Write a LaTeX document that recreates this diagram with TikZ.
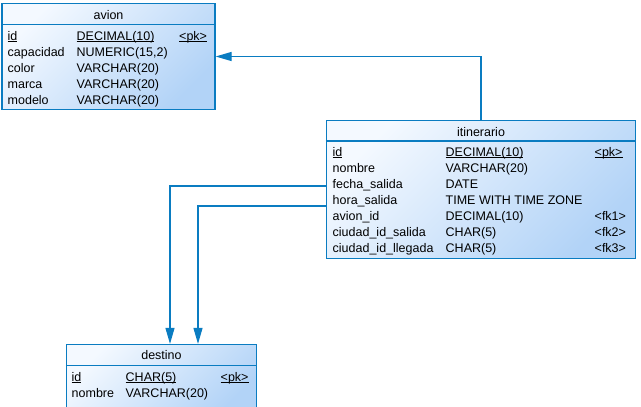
\documentclass[tikz,border=0pt]{standalone}
\usepackage{fontspec}
\setmainfont{Liberation Sans}
\usetikzlibrary{arrows.meta}
\definecolor{erline}{HTML}{0A7CC1}
\definecolor{erlight}{HTML}{F4F9FF}
\definecolor{erdark}{HTML}{B2D3F7}
\newcommand{\pkline}[1]{\underline{\smash{#1}}}
\begin{document}
\begin{tikzpicture}[x=1pt, y=-1pt,
            every node/.style = {font=\fontsize{12.5}{15}\selectfont, inner sep=0pt},
            table/.style = {draw=erline, line width=1.2pt, rectangle,
                top color=erlight, bottom color=erdark, shading angle=45},
            field/.style = {anchor=base west},
            title/.style = {anchor=base},
            fk/.style = {draw=erline, line width=1.2pt,
                -{Triangle[length=16pt, width=9pt]}}]
            \useasboundingbox (0,0) rectangle (641,407);
            \clip (0,0) rectangle (641,407);
            % tables
            \node[table, minimum width=213pt, minimum height=106pt] (avion) at (108.5,56.5) {};
            \node[table, minimum width=309.5pt, minimum height=138pt] (itinerario) at (481,189.5) {};
            \node[table, minimum width=190pt, minimum height=70pt] (destino) at (161.5,379.5) {};
            \draw[erline, line width=1.2pt] (avion.west |- 0,24.5) -- (avion.east |- 0,24.5);
            \draw[erline, line width=1.2pt] (itinerario.west |- 0,141) -- (itinerario.east |- 0,141);
            \draw[erline, line width=1.2pt] (destino.west |- 0,365.5) -- (destino.east |- 0,365.5);
            % titles
            \node[title] (avion-t) at (108.5,19.5) {avion};
            \node[title] (itinerario-t) at (481,136) {itinerario};
            \node[title] (destino-t) at (161.5,359) {destino};
            % fields
            \foreach \y/\name/\type/\key [count=\i] in {
                    40/\pkline{id}/\pkline{DECIMAL(10)}/\pkline{<pk>},
                    56/capacidad/{NUMERIC(15,2)}/{},
                    72/color/VARCHAR(20)/{},
                    88/marca/VARCHAR(20)/{},
                    104/modelo/VARCHAR(20)/{}} {
                \node[field] (avion-n\i) at (7.5,\y) {\name};
                \node[field] (avion-d\i) at (76.5,\y) {\type};
                \node[field] (avion-k\i) at (179,\y) {\key};
            }
            \foreach \y/\name/\type/\key [count=\i] in {
                    156/\pkline{id}/\pkline{DECIMAL(10)}/\pkline{<pk>},
                    172/nombre/VARCHAR(20)/{},
                    188/fecha\_salida/DATE/{},
                    204/hora\_salida/TIME WITH TIME ZONE/{},
                    220/avion\_id/DECIMAL(10)/<fk1>,
                    236/ciudad\_id\_salida/CHAR(5)/<fk2>,
                    252/ciudad\_id\_llegada/CHAR(5)/<fk3>} {
                \node[field] (itinerario-n\i) at (332.5,\y) {\name};
                \node[field] (itinerario-d\i) at (445.5,\y) {\type};
                \node[field] (itinerario-k\i) at (594.5,\y) {\key};
            }
            \foreach \y/\name/\type/\key [count=\i] in {
                    381/\pkline{id}/\pkline{CHAR(5)}/\pkline{<pk>},
                    397/nombre/VARCHAR(20)/{}} {
                \node[field] (destino-n\i) at (71.5,\y) {\name};
                \node[field] (destino-d\i) at (125.5,\y) {\type};
                \node[field] (destino-k\i) at (220.5,\y) {\key};
            }
            % references
            \draw[fk] (itinerario.north) |- (avion.east);
            \draw[fk] ([yshift=3.5pt]itinerario.west) -| ([xshift=8.5pt]destino.north);
            \draw[fk] ([yshift=-16.5pt]itinerario.west) -| ([xshift=36.5pt]destino.north);
        \end{tikzpicture}
\end{document}
